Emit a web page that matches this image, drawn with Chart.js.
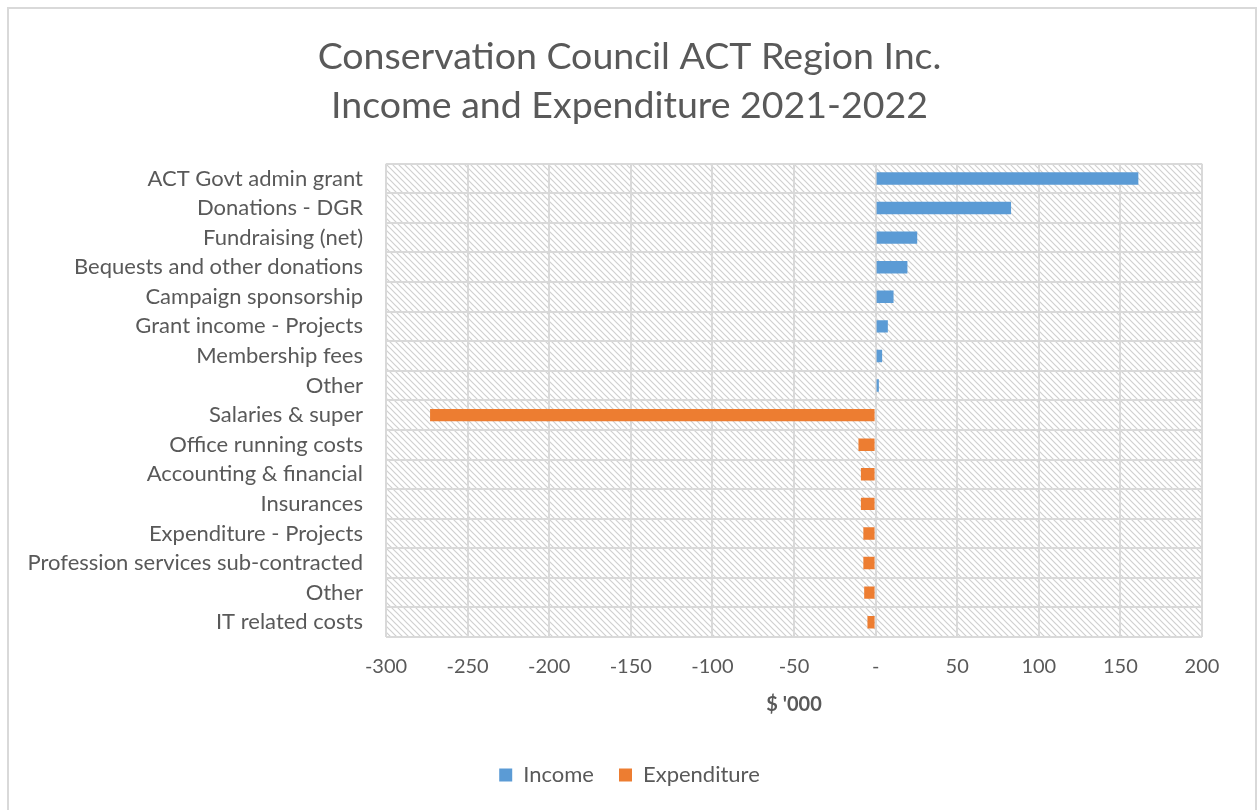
<!DOCTYPE html>
<html>
<head>
<meta charset="utf-8">
<script src="https://cdn.jsdelivr.net/npm/chart.js@4"></script>
<style>
  body { margin: 0; background: #fff; }
  #wrap { position: relative; width: 1259px; height: 810px; }
</style>
</head>
<body>
<div id="wrap"><canvas id="myChart" width="1259" height="810"></canvas></div>
<script>
var categories = ['ACT Govt admin grant', 'Donations - DGR', 'Fundraising (net)', 'Bequests and other donations',
    'Campaign sponsorship', 'Grant income - Projects', 'Membership fees', 'Other', 'Salaries & super',
    'Office running costs', 'Accounting & financial', 'Insurances', 'Expenditure - Projects',
    'Profession services sub-contracted', 'Other', 'IT related costs'];
var income = [161, 83, 25.5, 19.5, 11, 7.5, 4, 2, null, null, null, null, null, null, null, null];
var expenditure = [null, null, null, null, null, null, null, null, -273, -10.5, -9, -9, -7.5, -7.5, -7, -5];
var xTicks = [-300, -250, -200, -150, -100, -50, 0, 50, 100, 150, 200];

var textColor = '#595959';
var fontName = 'Lato, "Open Sans", sans-serif';

// hatched background for the plot area
function makeHatch() {
    var c = document.createElement('canvas');
    c.width = 6; c.height = 6;
    var g = c.getContext('2d');
    g.fillStyle = '#fff';
    g.fillRect(0, 0, 6, 6);
    g.strokeStyle = '#d0d0d0';
    g.lineWidth = 1.2;
    g.beginPath();
    g.moveTo(-1, -1); g.lineTo(7, 7);
    g.moveTo(-4, 2); g.lineTo(4, 10);
    g.moveTo(2, -4); g.lineTo(10, 4);
    g.stroke();
    return c;
}

var bgPlugin = {
    id: 'bgPlugin',
    beforeDraw: function (chart) {
        var ctx = chart.ctx;
        var a = chart.chartArea;
        ctx.save();
        ctx.fillStyle = '#fff';
        ctx.fillRect(0, 0, chart.width, chart.height);
        ctx.strokeStyle = '#d9d9d9';
        ctx.lineWidth = 2;
        ctx.strokeRect(8, 8, 1248, 820);
        ctx.fillStyle = ctx.createPattern(makeHatch(), 'repeat');
        ctx.fillRect(a.left, a.top, a.right - a.left, a.bottom - a.top);
        ctx.restore();
    }
};

var ctx = document.getElementById('myChart').getContext('2d');
var myChart = new Chart(ctx, {
    type: 'bar',
    data: {
        labels: categories,
        datasets: [{
            label: 'Income',
            data: income,
            backgroundColor: '#5b9bd5',
            barPercentage: 0.42,
            categoryPercentage: 1
        }, {
            label: 'Expenditure',
            data: expenditure,
            backgroundColor: '#ed7d31',
            barPercentage: 0.42,
            categoryPercentage: 1
        }]
    },
    plugins: [bgPlugin],
    options: {
        indexAxis: 'y',
        responsive: false,
        animation: false,
        layout: { padding: { left: 0, right: 0, top: 32, bottom: 14 } },
        scales: {
            x: {
                stacked: true,
                min: -300,
                max: 200,
                afterBuildTicks: function (scale) {
                    scale.ticks = xTicks.map(function (v) { return { value: v }; });
                },
                afterFit: function (scale) { scale.height = 102; },
                ticks: {
                    color: textColor,
                    font: { family: fontName, size: 20 },
                    padding: 18,
                    callback: function (v) { return v === 0 ? '-' : v; }
                },
                grid: { color: '#d9d9d9', lineWidth: 2, drawTicks: false },
                border: { display: false },
                title: {
                    display: true,
                    text: "$ '000",
                    color: textColor,
                    font: { family: fontName, size: 20, weight: 'bold' },
                    padding: { top: 0, bottom: 22 }
                }
            },
            y: {
                stacked: true,
                afterFit: function (scale) { scale.width = 386; },
                ticks: {
                    color: textColor,
                    font: { family: fontName, size: 22 },
                    padding: 23
                },
                grid: { color: '#d9d9d9', lineWidth: 2, offset: true, drawTicks: false },
                border: { display: false }
            },
            // empty right-hand axis, keeps the title centred on the page
            y2: {
                position: 'right',
                afterFit: function (scale) { scale.width = 57; },
                ticks: { display: false },
                grid: { display: false, drawTicks: false },
                border: { display: false }
            }
        },
        plugins: {
            title: {
                display: true,
                text: ['Conservation Council ACT Region Inc.', 'Income and Expenditure 2021-2022'],
                color: textColor,
                font: { family: fontName, size: 37.5, weight: 'normal', lineHeight: 1.316 },
                padding: { top: 0, bottom: 33 }
            },
            legend: {
                position: 'bottom',
                labels: {
                    color: textColor,
                    font: { family: fontName, size: 22 },
                    boxWidth: 13,
                    boxHeight: 13,
                    padding: 25
                }
            },
            tooltip: { enabled: false }
        }
    }
});
</script>
</body>
</html>
